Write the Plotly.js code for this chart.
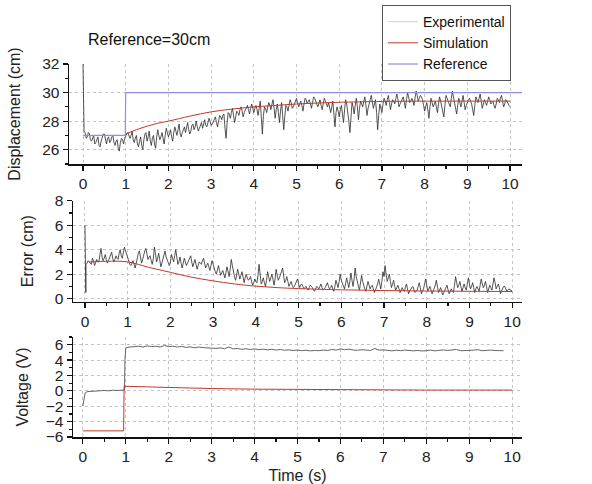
<!DOCTYPE html>
<html>
<head>
<meta charset="utf-8">
<script src="https://cdn.plot.ly/plotly-3.0.1.min.js"></script>
<style>html,body{margin:0;padding:0;background:#fff;}#chart{width:592px;height:484px;}</style>
</head>
<body>
<div id="chart"></div>
<script>
// ---------- DATA ----------
// Experimental displacement (cm): initial transient, then samples every 0.025 s from 0.025 to 10.000
const dispStartT = [0, 0.01, 0.02];
const dispStartY = [32.0, 30.7, 29.0];
const dispExp = [
27.3,27.2,26.8,26.9,27.2,27.1,26.7,26.6,26.9,27.0,26.4,26.5,26.7,26.9,26.3,26.2,26.6,26.8,27.1,27.1,
26.6,26.4,26.8,26.9,26.5,26.6,26.9,27.0,26.5,26.3,26.6,26.7,26.1,25.9,26.5,26.8,26.7,26.4,26.8,27.0,
27.1,27.2,26.9,26.8,27.0,27.3,26.7,26.5,26.8,27.0,26.4,26.2,26.6,26.9,26.3,26.0,26.7,27.1,27.2,26.6,
26.9,27.3,26.6,26.3,26.8,27.0,26.4,26.1,26.9,27.4,27.0,26.7,26.9,27.2,26.8,26.4,27.0,27.5,27.2,26.9,
27.1,27.4,26.9,26.6,27.2,27.6,27.3,27.0,27.4,27.8,27.1,26.9,27.2,27.5,27.6,27.2,27.5,27.9,27.4,27.1,
27.3,27.7,27.8,27.4,27.6,28.0,27.6,27.3,27.5,27.8,27.9,27.5,27.8,28.1,27.7,27.6,27.9,28.2,28.0,27.7,
27.8,28.0,28.2,28.3,27.9,27.6,28.0,28.4,28.3,28.1,28.4,28.5,27.5,26.8,27.9,28.6,28.5,28.2,28.6,28.9,
28.4,27.9,28.3,28.7,28.6,28.4,28.8,29.0,28.7,28.3,28.6,28.8,29.0,29.1,28.8,28.5,28.9,29.2,28.9,28.6,
28.9,29.1,28.8,28.4,28.9,29.4,28.3,27.1,28.4,29.0,28.9,28.6,29.0,29.3,29.1,28.8,29.2,29.5,28.9,28.2,
28.8,29.2,28.6,27.9,28.7,29.3,28.4,27.4,28.3,29.1,29.0,28.7,29.1,29.5,29.3,28.9,29.0,29.2,29.4,29.6,
29.3,29.0,29.2,29.4,29.1,28.7,29.2,29.6,29.5,29.2,29.4,29.5,29.2,28.9,29.3,29.7,29.6,29.3,29.2,29.0,
29.3,29.5,29.1,28.8,29.2,29.6,29.4,29.2,29.0,29.3,28.9,28.6,29.0,29.4,28.5,27.6,28.6,29.0,28.7,28.3,
28.8,29.1,28.5,27.9,28.8,29.5,29.2,28.7,28.0,27.2,28.4,29.3,29.0,28.5,29.1,29.6,29.0,28.1,28.9,29.4,
29.2,29.0,29.4,29.7,29.1,28.4,28.9,29.3,29.5,29.8,29.3,28.9,29.2,29.5,28.6,27.4,28.4,29.2,28.9,28.6,
29.2,29.6,29.4,29.1,29.5,29.8,29.3,28.8,29.2,29.5,29.4,29.2,29.6,29.9,29.5,29.0,29.2,29.4,29.6,29.7,
29.3,28.9,29.5,30.0,29.7,29.3,29.4,29.6,29.4,29.1,29.6,30.1,29.8,29.4,29.6,29.8,29.7,29.5,29.1,28.7,
29.0,29.3,28.8,28.2,29.0,29.6,29.3,29.0,29.2,29.4,29.0,28.6,29.2,29.7,29.4,29.1,28.7,28.3,29.1,29.8,
29.6,29.4,29.2,29.0,29.6,30.1,29.7,29.3,28.9,28.5,29.1,29.6,29.3,29.0,29.4,29.8,29.3,28.8,29.1,29.4,
29.5,29.6,29.4,29.2,28.8,28.4,29.1,29.7,29.5,29.3,29.6,29.9,29.4,28.9,29.2,29.5,29.3,29.1,29.4,29.7,
29.5,29.2,29.3,29.4,29.1,28.9,29.2,29.6,29.5,29.3,29.6,29.8,29.4,29.0,29.2,29.5,29.4,29.2,29.1,29.0
];
// Simulated displacement (cm)
const simDispT = [1.0,1.25,1.5,1.75,2.0,2.5,3.0,3.5,4.0,4.5,5.0,5.5,6.0,7.0,8.0,9.0,10.0];
const simDispY = [27.1,27.4,27.65,27.85,28.0,28.35,28.65,28.85,29.0,29.1,29.2,29.27,29.32,29.38,29.4,29.4,29.4];
// Reference (cm)
const refT = [0, 0.99, 1.0, 10.3];
const refY = [27.0, 27.0, 30.0, 30.0];

// Experimental error (cm): initial transient, then every 0.025 s from 0.025 to 10.000
const errStartT = [0, 0.01, 0.02];
const errStartY = [6.0, 3.0, 0.5];
const errExp = [
2.8,2.9,3.1,3.0,2.9,2.8,3.3,3.1,2.7,2.9,3.2,3.0,3.0,3.6,4.1,3.4,3.1,3.3,3.6,3.2,
2.9,3.1,3.4,3.6,3.8,3.3,3.0,3.2,3.5,3.3,3.2,3.7,4.0,3.5,3.3,3.8,4.2,3.9,3.6,3.4,
3.0,2.8,2.7,2.9,3.1,2.8,2.5,2.9,3.4,3.7,3.9,3.3,2.9,3.2,3.6,3.9,4.1,3.6,3.2,3.4,
3.5,3.1,2.8,3.3,4.2,3.7,3.0,3.3,3.7,3.2,2.6,2.9,3.3,3.6,3.9,3.4,3.1,2.9,2.7,3.0,
3.6,3.3,3.0,3.5,4.0,3.4,2.8,3.0,3.4,2.9,2.5,2.9,3.3,3.0,2.7,2.9,3.1,3.3,3.5,3.0,
2.6,2.9,3.2,2.8,2.4,2.7,3.0,2.9,2.8,3.1,3.3,2.9,2.5,2.7,2.9,2.6,2.3,2.7,3.1,2.8,
2.4,2.2,2.0,2.3,2.7,2.3,1.9,2.1,2.3,2.0,1.7,2.1,2.6,2.2,1.8,2.4,3.2,2.7,2.1,1.8,
1.5,1.9,2.4,2.0,1.6,1.9,2.2,1.8,1.3,1.7,2.0,1.7,1.5,1.6,1.8,1.4,1.1,1.3,1.6,1.4,
1.3,1.9,2.8,2.0,1.2,1.4,1.7,1.3,1.0,1.5,2.2,1.8,1.4,1.7,2.0,1.6,1.1,1.6,2.4,1.9,
1.5,1.7,1.9,2.2,2.5,1.8,1.3,1.5,1.8,1.4,1.0,1.2,1.4,1.1,0.9,1.0,1.2,1.4,1.6,1.2,
0.9,1.1,1.2,1.0,0.8,0.9,1.0,0.8,0.7,0.9,1.1,1.0,0.9,0.7,0.6,0.8,1.0,0.9,0.8,1.0,
1.2,0.9,0.7,0.8,0.9,1.1,1.3,1.0,0.8,0.9,1.1,0.8,0.6,1.0,1.5,1.2,0.9,1.4,2.0,1.5,
1.2,1.0,0.8,1.2,1.7,1.3,0.9,1.4,2.1,1.5,1.0,1.6,2.5,1.8,1.3,1.0,0.7,1.2,1.9,1.4,
1.0,0.8,0.6,1.0,1.4,1.1,0.8,1.0,1.1,0.8,0.5,0.7,0.9,1.2,1.6,1.1,0.8,1.4,2.2,1.8,
2.7,2.0,1.4,1.7,2.0,1.4,0.9,1.2,1.5,1.0,0.7,0.9,1.1,0.8,0.5,0.7,0.9,0.7,0.6,0.9,
1.2,0.8,0.4,0.6,0.8,0.9,1.0,0.7,0.5,0.6,0.7,1.0,1.3,0.9,0.4,0.6,0.8,1.2,1.6,1.1,
0.6,0.8,1.0,0.7,0.4,0.6,0.8,1.1,1.5,0.9,0.5,0.7,0.9,0.6,0.3,0.5,0.7,0.9,1.1,0.7,
0.4,0.6,0.8,0.6,0.5,1.1,1.8,1.3,0.9,1.1,1.4,1.0,0.6,0.9,1.2,0.9,0.7,1.2,1.7,1.2,
0.8,1.0,1.3,0.9,0.5,0.8,1.0,0.8,0.6,1.1,1.6,1.2,0.9,1.1,1.4,1.0,0.5,0.8,1.1,0.9,
0.7,1.2,1.7,1.3,0.8,1.0,1.2,0.9,0.4,0.6,0.9,1.0,1.0,0.8,0.6,0.7,0.8,0.7,0.7,0.6
];
// Simulated error (cm)
const simErrT = [0.1,0.5,1.0,1.5,2.0,2.5,3.0,3.5,4.0,4.5,5.0,6.0,7.0,8.0,9.0,10.0];
const simErrY = [3.0,3.05,3.0,2.55,2.15,1.75,1.45,1.2,1.02,0.9,0.82,0.72,0.66,0.62,0.6,0.58];

// Experimental voltage (V)
const voltStartT = [0, 0.02, 0.05, 0.1, 0.2, 0.3, 0.4, 0.5, 0.6, 0.7, 0.8, 0.9, 0.97, 0.98, 1.0];
const voltStartY = [-2.0, -1.0, -0.3, -0.1, -0.05, 0.0, -0.02, 0.05, 0.0, 0.08, 0.05, 0.1, 0.1, 4.0, 5.6];
// every 0.1 s from 1.1 to 9.9
const voltExp = [
5.7,5.75,5.8,5.7,5.85,5.75,5.8,5.7,5.9,
5.75,5.8,5.7,5.78,5.65,5.72,5.6,5.7,5.62,5.58,
5.6,5.52,5.58,5.48,5.7,5.45,5.5,5.4,5.47,5.38,
5.45,5.35,5.42,5.33,5.4,5.3,5.38,5.28,5.32,5.25,
5.3,5.22,5.28,5.2,5.25,5.22,5.3,5.25,5.38,5.3,
5.45,5.35,5.42,5.3,5.28,5.35,5.3,5.25,5.5,5.3,
5.32,5.25,5.2,5.28,5.22,5.3,5.24,5.2,5.26,5.18,
5.22,5.3,5.2,5.28,5.32,5.25,5.3,5.38,5.22,5.28,
5.25,5.3,5.35,5.22,5.28,5.3,5.24,5.2,5.22
];
// Simulated voltage (V)
const simVoltT = [0,0.95,0.96,1.0,1.5,2.0,2.5,3.0,4.0,5.0,6.0,7.0,8.0,9.0,10.0];
const simVoltY = [-5.2,-5.2,0.6,0.6,0.52,0.44,0.36,0.3,0.22,0.17,0.13,0.11,0.1,0.1,0.1];

const xTicks = [0,1,2,3,4,5,6,7,8,9,10];

// ---------- BUILD ----------
function stepTimes(n, start, step){ const a=[]; for(let i=0;i<n;i++) a.push(+(start+i*step).toFixed(3)); return a; }
const dispT = dispStartT.concat(stepTimes(dispExp.length, 0.025, 0.025));
const dispY = dispStartY.concat(dispExp);
const errT = errStartT.concat(stepTimes(errExp.length, 0.025, 0.025));
const errY = errStartY.concat(errExp);
const voltT = voltStartT.concat(stepTimes(voltExp.length, 1.1, 0.1));
const voltY = voltStartY.concat(voltExp);

const cExp = '#2a2a2a', cSim = '#c0392b', cRef = '#8f8fe0';
const FAM = 'Liberation Sans, Arial, sans-serif';
const font = {family: FAM, size: 15, color: '#111'};
const tickFont = {family: FAM, size: 15.5, color: '#222'};
const titleFont = {family: FAM, size: 16, color: '#222'};

const traces = [
  {x:[null], y:[null], type:'scatter', mode:'lines', name:'Experimental', line:{color:'#d6d6d6', width:1.2}, xaxis:'x', yaxis:'y'},
  {x:dispT, y:dispY, type:'scatter', mode:'lines', name:'Experimental', showlegend:false, line:{color:cExp, width:0.8}, xaxis:'x', yaxis:'y'},
  {x:simDispT, y:simDispY, type:'scatter', mode:'lines', name:'Simulation', line:{color:cSim, width:1, shape:'spline'}, xaxis:'x', yaxis:'y'},
  {x:refT, y:refY, type:'scatter', mode:'lines', name:'Reference', line:{color:cRef, width:1.2}, xaxis:'x', yaxis:'y'},
  {x:errT, y:errY, type:'scatter', mode:'lines', showlegend:false, line:{color:cExp, width:0.8}, xaxis:'x2', yaxis:'y2'},
  {x:simErrT, y:simErrY, type:'scatter', mode:'lines', showlegend:false, line:{color:cSim, width:1, shape:'spline'}, xaxis:'x2', yaxis:'y2'},
  {x:voltT, y:voltY, type:'scatter', mode:'lines', showlegend:false, line:{color:'#555', width:0.9}, xaxis:'x3', yaxis:'y3'},
  {x:simVoltT, y:simVoltY, type:'scatter', mode:'lines', showlegend:false, line:{color:cSim, width:1}, xaxis:'x3', yaxis:'y3'}
];

function xa(domain, range, anchor, title){
  const o = {domain, range, anchor, tickvals:xTicks, ticktext:xTicks.map(String), ticks:'outside', ticklen:5, tickwidth:1.2, tickcolor:'#111',
    showline:true, linecolor:'#111', linewidth:1.5, showgrid:true, gridcolor:'#c4c4c4', griddash:'dot', gridwidth:1, zeroline:false,
    tickfont:tickFont,
    minor:{dtick:0.5, tick0:0, ticks:'outside', ticklen:3, tickcolor:'#111', showgrid:false}};
  if(title) o.title = {text:title, font:titleFont, standoff:6};
  return o;
}
function ya(domain, range, anchor, dtick, title, standoff){
  return {domain, range, anchor, dtick, tick0:0, ticks:'outside', ticklen:5, tickwidth:1.2, tickcolor:'#111',
    showline:true, linecolor:'#111', linewidth:1.5, showgrid:true, gridcolor:'#c4c4c4', griddash:'dot', gridwidth:1, zeroline:false,
    tickfont:tickFont,
    minor:{dtick:dtick/2, ticks:'outside', ticklen:3, tickcolor:'#111', showgrid:false},
    title:{text:title, font:titleFont, standoff:standoff}};
}

const layout = {
  width:592, height:484, margin:{l:0,r:0,t:0,b:0}, paper_bgcolor:'#fff', plot_bgcolor:'#fff', font:font,
  showlegend:true,
  legend:{x:382/592, y:1-5/484, xanchor:'left', yanchor:'top', borderwidth:1, bordercolor:'#555', bgcolor:'#fff',
    font:{family:FAM, size:14, color:'#111'}, tracegroupgap:0, itemwidth:30},
  xaxis: xa([69/592, 522/592], [-0.328, 10.28], 'y'),
  yaxis: ya([1-164/484, 1-64/484], [25, 32], 'x', 2, 'Displacement (cm)', 17),
  xaxis2: xa([73/592, 522/592], [-0.28, 10.23], 'y2'),
  yaxis2: ya([1-301.7/484, 1-200.7/484], [-0.25, 8], 'x2', 2, 'Error (cm)', 17),
  xaxis3: xa([73/592, 522/592], [-0.23, 10.23], 'y3', 'Time (s)'),
  yaxis3: ya([1-437/484, 1-337/484], [-6, 7], 'x3', 2, 'Voltage (V)', 13),
  annotations:[{text:'Reference=30cm', xref:'paper', yref:'paper', x:86/592, y:1-39/484, xanchor:'left', yanchor:'middle', showarrow:false,
    font:{family:FAM, size:16, color:'#111'}}]
};

Plotly.newPlot('chart', traces, layout, {staticPlot:true, displayModeBar:false});
</script>
</body>
</html>
